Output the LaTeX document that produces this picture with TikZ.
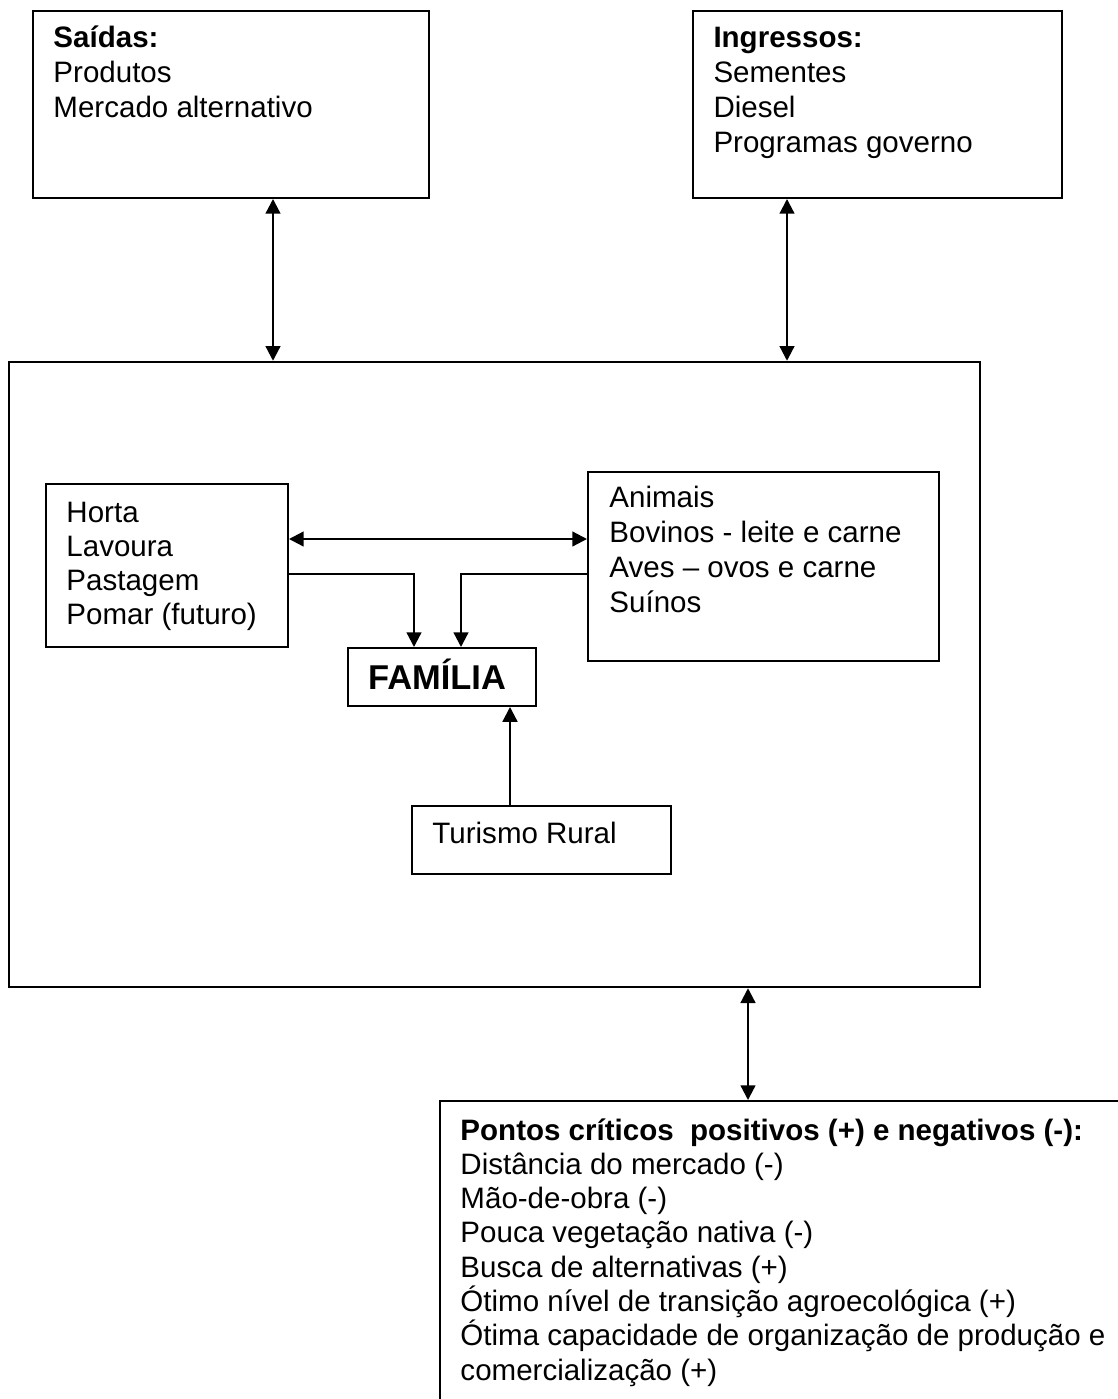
\documentclass[tikz,border=0pt]{standalone}
\usepackage{fontspec}
\setmainfont{Liberation Sans}
\usetikzlibrary{arrows.meta,fit,calc}

\tikzset{
  box/.style={draw, line width=0.8pt, inner sep=0pt},
  txt/.style={anchor=base west, inner sep=0pt, font=\fontsize{12}{13.8}\selectfont},
  link/.style={line width=0.9pt, -{Triangle[length=6pt,width=6pt]}},
  dlink/.style={line width=0.9pt, {Triangle[length=6pt,width=6pt]}-{Triangle[length=6pt,width=6pt]}}
}

\begin{document}
\begin{tikzpicture}[x=0.4065pt, y=-0.4065pt]
\useasboundingbox[fill=white] (0,0) rectangle (1118,1399);
\clip (0,0) rectangle (1118,1399);

% outer boxes
\node[box, fit={(33,11) (429,198)}] (sai) {};
\node[box, fit={(693,11) (1062,198)}] (ing) {};
\node[box, line width=1pt, fit={(9,362) (980,987)}] (prop) {};
\node[box, fit={(440,1101) (1160,1440)}] (pont) {};

% inner boxes
\node[box, fit={(46,484) (288,647)}] (horta) {};
\node[box, fit={(588,472) (939,661)}] (anim) {};
\node[box, fit={(348,648) (536,706)}] (fam) {};
\node[box, fit={(412,806) (671,874)}] (tur) {};

% texts
\foreach \t [count=\i] in {\textbf{Saídas:}, Produtos, Mercado alternativo}
  \node[txt] (sai-\i) at (53, {48+35*(\i-1)}) {\t};
\foreach \t [count=\i] in {\textbf{Ingressos:}, Sementes, Diesel, Programas governo}
  \node[txt] (ing-\i) at (713, {48+34.7*(\i-1)}) {\t};
\foreach \t [count=\i] in {Horta, Lavoura, Pastagem, Pomar (futuro)}
  \node[txt] (horta-\i) at (66, {522+34*(\i-1)}) {\t};
\foreach \t [count=\i] in {Animais, Bovinos - leite e carne, Aves – ovos e carne, Suínos}
  \node[txt] (anim-\i) at (609, {507+35*(\i-1)}) {\t};
\node[anchor=base, inner sep=0pt, font=\fontsize{14}{16}\selectfont\bfseries] (fam-t) at (437,689) {FAMÍLIA};
\node[txt] (tur-t) at (432,843) {Turismo Rural};
\foreach \t [count=\i] in {\textbf{Pontos críticos\ \ positivos (+) e negativos (-):},
    Distância do mercado (-), Mão-de-obra (-), Pouca vegetação nativa (-),
    Busca de alternativas (+), Ótimo nível de transição agroecológica (+),
    Ótima capacidade de organização de produção e, comercialização (+)}
  \node[txt] (pont-\i) at (460, {1140+34.3*(\i-1)}) {\t};

% guide coordinates for connector positions
\coordinate (xs) at (273,0);
\coordinate (xi) at (787,0);
\coordinate (xp) at (748,0);
\coordinate (xh) at (414,0);
\coordinate (xa) at (461,0);
\coordinate (xt) at (510,0);
\coordinate (yd) at (0,539);
\coordinate (yf) at (0,574);

% connectors
\draw[dlink] (xs |- sai.south) -- (xs |- prop.north);
\draw[dlink] (xi |- ing.south) -- (xi |- prop.north);
\draw[dlink] (xp |- prop.south) -- (xp |- pont.north);
\draw[dlink] (yd -| horta.east) -- (yd -| anim.west);
\draw[link] (yf -| horta.east) -| (xh |- fam.north);
\draw[link] (yf -| anim.west) -| (xa |- fam.north);
\draw[link] (xt |- tur.north) -- (xt |- fam.south);
\end{tikzpicture}
\end{document}
